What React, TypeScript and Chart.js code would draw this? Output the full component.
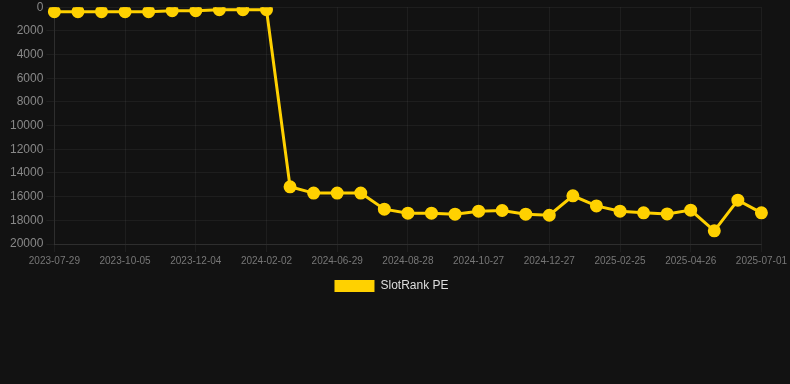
import React, { useEffect, useRef } from "react";
import { Chart, registerables } from "chart.js";

Chart.register(...registerables);

const labels = [
  "2023-07-29", "2023-08-21", "2023-09-12", "2023-10-05", "2023-10-25", "2023-11-14",
  "2023-12-04", "2023-12-24", "2024-01-13", "2024-02-02", "2024-05-10", "2024-06-09",
  "2024-06-29", "2024-07-19", "2024-08-08", "2024-08-28", "2024-09-17", "2024-10-07",
  "2024-10-27", "2024-11-16", "2024-12-06", "2024-12-27", "2025-01-16", "2025-02-05",
  "2025-02-25", "2025-03-17", "2025-04-06", "2025-04-26", "2025-05-16", "2025-06-11",
  "2025-07-01",
];

const slotRankPE = [
  380, 380, 380, 380, 380, 300, 300, 210, 210, 210,
  15170, 15700, 15700, 15700, 17060, 17400, 17400, 17480, 17230, 17170,
  17480, 17570, 15930, 16780, 17230, 17370, 17460, 17140, 18890, 16300,
  17370,
];

const seriesName = "SlotRank PE";

export default function App() {
  const ref = useRef<HTMLCanvasElement | null>(null);

  useEffect(() => {
    document.body.style.margin = "0";
    document.body.style.background = "#121212";
    const ctx = ref.current!;
    const chart = new Chart(ctx, {
      type: "line",
      data: {
        labels,
        datasets: [
          {
            label: seriesName,
            data: slotRankPE,
            borderColor: "#FFD100",
            backgroundColor: "#FFD100",
            pointBackgroundColor: "#FFD100",
            pointBorderColor: "#FFD100",
            borderWidth: 3,
            pointRadius: 5,
            tension: 0,
          },
        ],
      },
      options: {
        animation: false,
        responsive: false,
        maintainAspectRatio: false,
        layout: { padding: { left: 7, right: 14, top: 0, bottom: 0 } },
        plugins: {
          legend: {
            position: "bottom",
            labels: {
              color: "#dddddd",
              font: { family: "Arial, 'Liberation Sans', sans-serif", size: 12 },
              boxWidth: 40,
              generateLabels: (c: any) => {
                const items = Chart.defaults.plugins.legend.labels.generateLabels(c);
                return items.map((it: any) => ({ ...it, lineWidth: 0 }));
              },
            },
          },
          tooltip: { enabled: false },
        },
        scales: {
          x: {
            grid: { color: "rgba(255,255,255,0.05)" },
            border: { color: "rgba(255,255,255,0.08)" },
            ticks: {
              color: "#777777",
              maxRotation: 0,
              autoSkip: true,
              font: { family: "Arial, 'Liberation Sans', sans-serif", size: 10 },
            },
          },
          y: {
            reverse: true,
            min: 0,
            max: 20000,
            grid: { color: "rgba(255,255,255,0.05)" },
            border: { color: "rgba(255,255,255,0.08)" },
            ticks: {
              stepSize: 2000,
              color: "#888888",
              font: { family: "Arial, 'Liberation Sans', sans-serif", size: 12 },
              callback: (v: any) => String(v),
            },
          },
        },
      },
    });
    return () => chart.destroy();
  }, []);

  return (
    <div style={{ position: "absolute", left: 0, top: 0, width: 790, height: 384, background: "#121212", overflow: "hidden" }}>
      <canvas ref={ref} width={790} height={305} style={{ display: "block", marginTop: -3 }} />
    </div>
  );
}
